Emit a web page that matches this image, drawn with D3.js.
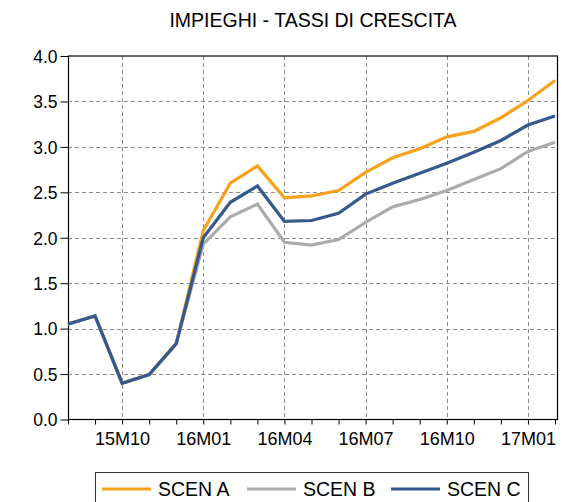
<!DOCTYPE html>
<html>
<head>
<meta charset="utf-8">
<script src="https://cdn.jsdelivr.net/npm/d3@7"></script>
<style>
  body { margin: 0; background: #fff; }
  svg { display: block; font-family: "Liberation Sans", Arial, sans-serif; }
  .grid line { stroke: #8c8c8c; stroke-dasharray: 4,3; stroke-width: 1; }
</style>
</head>
<body>
<svg></svg>
<script>
const WIDTH = 562, HEIGHT = 502;
const margin = { top: 56, right: 5, bottom: 83, left: 68 };

// monthly periods 15M08 .. 17M02
const periods = ["15M08", "15M09", "15M10", "15M11", "15M12",
  "16M01", "16M02", "16M03", "16M04", "16M05", "16M06",
  "16M07", "16M08", "16M09", "16M10", "16M11", "16M12",
  "17M01", "17M02"];
const tickLabels = ["15M10", "16M01", "16M04", "16M07", "16M10", "17M01"];
const yTicks = [0, 0.5, 1, 1.5, 2, 2.5, 3, 3.5, 4];

const scenA = [1.05, 1.14, 0.40, 0.495, 0.835, 2.08, 2.60, 2.79, 2.44, 2.46, 2.52,
  2.72, 2.88, 2.98, 3.11, 3.17, 3.32, 3.51, 3.73];
const scenB = [1.05, 1.14, 0.40, 0.495, 0.835, 1.93, 2.23, 2.37, 1.95, 1.92, 1.98,
  2.17, 2.34, 2.42, 2.52, 2.64, 2.76, 2.95, 3.05];
const scenC = [1.05, 1.14, 0.40, 0.495, 0.835, 2.00, 2.39, 2.57, 2.18, 2.19, 2.27,
  2.48, 2.60, 2.71, 2.82, 2.94, 3.07, 3.24, 3.34];

const series = [
  { name: "SCEN A", values: scenA, color: "#f7a11c" },
  { name: "SCEN B", values: scenB, color: "#acacac" },
  { name: "SCEN C", values: scenC, color: "#34598d" }
];

const svg = d3.select("svg").attr("width", WIDTH).attr("height", HEIGHT);

const x = d3.scaleLinear()
  .domain([0, periods.length - 1])
  .range([margin.left, 555]);
const y = d3.scaleLinear()
  .domain([0, 4])
  .range([419.5, margin.top]);

// title
svg.append("text")
  .attr("x", 313)
  .attr("y", 27)
  .attr("text-anchor", "middle")
  .style("font-size", "19.5px")
  .text("IMPIEGHI - TASSI DI CRESCITA");

// grid
const grid = svg.append("g").attr("class", "grid");
grid.selectAll(".h")
  .data(yTicks.filter(d => d > 0 && d < 4))
  .enter()
  .append("line")
  .attr("x1", x.range()[0])
  .attr("x2", 557)
  .attr("y1", d => Math.round(y(d)) + 0.5)
  .attr("y2", d => Math.round(y(d)) + 0.5);
grid.selectAll(".v")
  .data(tickLabels)
  .enter()
  .append("line")
  .attr("x1", d => Math.round(x(periods.indexOf(d))) + 0.5)
  .attr("x2", d => Math.round(x(periods.indexOf(d))) + 0.5)
  .attr("y1", y(4))
  .attr("y2", y(0));

// frame
svg.append("rect")
  .attr("x", x.range()[0] + 0.5)
  .attr("y", y(4))
  .attr("width", 557 - x.range()[0])
  .attr("height", y(0) - y(4))
  .attr("fill", "none")
  .attr("stroke", "#000")
  .attr("stroke-width", 1.2);

// y axis
const yAxis = svg.append("g")
  .attr("transform", `translate(${x.range()[0] + 0.5},0)`)
  .call(d3.axisLeft(y).tickValues(yTicks).tickFormat(d3.format(".1f")).tickSize(8).tickPadding(3));
yAxis.select(".domain").remove();
yAxis.selectAll("text").style("font-size", "17.5px").attr("fill", "#000").attr("dy", "0.36em");

// x axis: monthly ticks, labels on quarters
const xAxis = svg.append("g")
  .attr("transform", `translate(0,${y(0)})`)
  .call(d3.axisBottom(x)
    .tickValues(d3.range(periods.length))
    .tickSize(5)
    .tickPadding(8)
    .tickFormat(i => tickLabels.includes(periods[i]) ? periods[i] : ""));
xAxis.select(".domain").remove();
xAxis.selectAll("text").style("font-size", "18px").attr("fill", "#000");

// lines
const line = d3.line()
  .x((d, i) => x(i))
  .y(d => y(d));

svg.append("g")
  .selectAll("path")
  .data(series)
  .enter()
  .append("path")
  .attr("d", d => line(d.values))
  .attr("fill", "none")
  .attr("stroke", d => d.color)
  .attr("stroke-width", 3.2)
  .attr("stroke-linejoin", "miter");

// legend
const legend = svg.append("g");
legend.append("rect")
  .attr("x", 95.5)
  .attr("y", 472.5)
  .attr("width", 433)
  .attr("height", 40)
  .attr("fill", "none")
  .attr("stroke", "#333")
  .attr("stroke-width", 1);

const legendX = [102, 247, 391];
const items = legend.selectAll(".item")
  .data(series)
  .enter()
  .append("g")
  .attr("transform", (d, i) => `translate(${legendX[i]},489)`);
items.append("line")
  .attr("x1", 0)
  .attr("x2", 49)
  .attr("stroke", d => d.color)
  .attr("stroke-width", 3.2);
items.append("text")
  .attr("x", 56)
  .attr("y", 7)
  .style("font-size", "19.5px")
  .text(d => d.name);
</script>
</body>
</html>
